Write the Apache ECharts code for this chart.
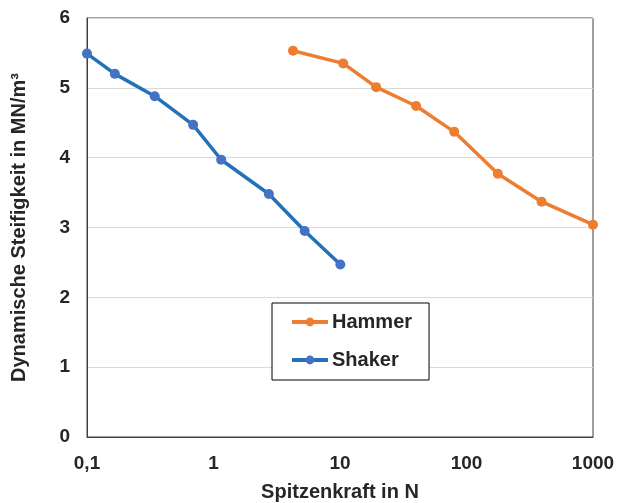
<!DOCTYPE html>
<html><head><meta charset="utf-8">
<script src="https://cdn.jsdelivr.net/npm/echarts@6/dist/echarts.min.js"></script>
<style>html,body{margin:0;padding:0;background:#fff}#c{width:620px;height:503px}</style>
</head><body><div id="c"></div>
<script>
const hammerX = [4.25, 10.6, 19.3, 40, 80, 177, 392, 1000];
const hammerY = [5.53, 5.35, 5.01, 4.74, 4.37, 3.77, 3.37, 3.04];
const shakerX = [0.1, 0.166, 0.343, 0.69, 1.15, 2.74, 5.26, 10.06];
const shakerY = [5.49, 5.20, 4.88, 4.47, 3.97, 3.48, 2.95, 2.47];
const seriesNames = ['Hammer', 'Shaker'];
const xTitle = 'Spitzenkraft in N';
const yTitle = 'Dynamische Steifigkeit in MN/m³';

const FONT = 'Liberation Sans';
const TXT = '#262626';
const chart = echarts.init(document.getElementById('c'), null, {renderer: 'canvas'});
const zip = (a, b) => a.map((v, i) => [v, b[i]]);
chart.setOption({
  animation: false,
  backgroundColor: '#fff',
  grid: {left: 87, right: 27, top: 18, bottom: 66, show: true, borderColor: '#404040', borderWidth: 1,
    containLabel: false, outerBoundsMode: 'none'},
  legend: {
    data: seriesNames,
    orient: 'vertical',
    left: 272, top: 303,
    padding: [9, 17, 10, 18],
    itemGap: 18,
    itemWidth: 36, itemHeight: 11,
    borderColor: '#000', borderWidth: 1,
    backgroundColor: '#fff',
    lineStyle: {width: 4},
    textStyle: {fontFamily: FONT, fontWeight: 'bold', fontSize: 20, color: TXT, padding: [0, 0, 0, -1]}
  },
  xAxis: {
    type: 'log', logBase: 10, min: 0.1, max: 1000,
    name: xTitle, nameLocation: 'middle', nameGap: 45,
    nameTextStyle: {fontFamily: FONT, fontWeight: 'bold', fontSize: 20, color: TXT},
    axisLine: {show: true, lineStyle: {color: '#404040'}},
    axisTick: {show: false},
    splitLine: {show: false},
    minorTick: {show: false},
    axisLabel: {fontFamily: FONT, fontWeight: 'bold', fontSize: 19, color: TXT, margin: 17,
      formatter: v => String(+v.toPrecision(6)).replace('.', ',')}
  },
  yAxis: {
    type: 'value', min: 0, max: 6, interval: 1,
    name: yTitle, nameLocation: 'middle', nameGap: 58, nameRotate: 90,
    nameTextStyle: {fontFamily: FONT, fontWeight: 'bold', fontSize: 20, color: TXT},
    axisLine: {show: true, lineStyle: {color: '#404040'}},
    axisTick: {show: false},
    splitLine: {show: true, lineStyle: {color: '#d9d9d9', width: 1}},
    axisLabel: {fontFamily: FONT, fontWeight: 'bold', fontSize: 19, color: TXT, margin: 17}
  },
  series: [
    {name: seriesNames[0], type: 'line', data: zip(hammerX, hammerY), symbol: 'circle', symbolSize: 10,
      lineStyle: {color: '#ED7D31', width: 3.5}, itemStyle: {color: '#ED7D31'}, color: '#ED7D31'},
    {name: seriesNames[1], type: 'line', data: zip(shakerX, shakerY), symbol: 'circle', symbolSize: 10,
      lineStyle: {color: '#2372B9', width: 3.5}, itemStyle: {color: '#4472C4'}, color: '#2372B9'}
  ]
});
</script></body></html>
